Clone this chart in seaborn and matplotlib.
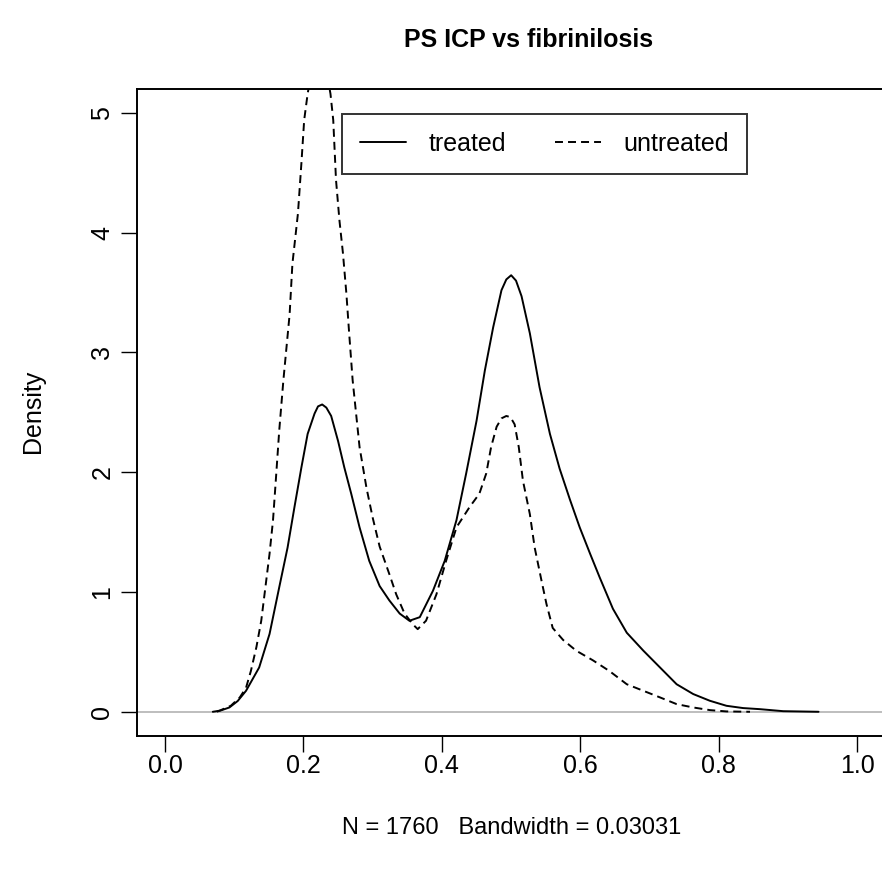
import matplotlib
matplotlib.use("Agg")
import matplotlib.pyplot as plt
import seaborn as sns
import pandas as pd

# density curves (x, density)
treated_x = [0.069, 0.080, 0.093, 0.105, 0.117, 0.136, 0.151, 0.165, 0.177, 0.187,
             0.197, 0.206, 0.216, 0.221, 0.227, 0.233, 0.240, 0.250, 0.259, 0.269,
             0.281, 0.295, 0.310, 0.324, 0.339, 0.353, 0.368, 0.387, 0.404, 0.421,
             0.435, 0.450, 0.462, 0.474, 0.486, 0.493, 0.500, 0.507, 0.515, 0.527,
             0.541, 0.556, 0.570, 0.585, 0.599, 0.614, 0.628, 0.647, 0.667, 0.691,
             0.715, 0.739, 0.763, 0.787, 0.811, 0.835, 0.859, 0.893, 0.944]
treated_y = [0.00, 0.01, 0.036, 0.09, 0.175, 0.37, 0.65, 1.04, 1.37, 1.71,
             2.04, 2.32, 2.49, 2.55, 2.566, 2.54, 2.47, 2.26, 2.04, 1.82,
             1.54, 1.26, 1.05, 0.93, 0.82, 0.76, 0.79, 1.01, 1.26, 1.60,
             1.99, 2.43, 2.85, 3.21, 3.52, 3.61, 3.645, 3.60, 3.47, 3.16,
             2.71, 2.32, 2.03, 1.77, 1.54, 1.32, 1.12, 0.86, 0.66, 0.51,
             0.37, 0.23, 0.148, 0.092, 0.05, 0.031, 0.022, 0.005, 0.0]

untreated_x = [0.075, 0.095, 0.108, 0.117, 0.124, 0.132, 0.139, 0.145, 0.151, 0.156,
               0.160, 0.165, 0.171, 0.180, 0.184, 0.192, 0.197, 0.201, 0.206, 0.215,
               0.222, 0.230, 0.239, 0.243, 0.247, 0.252, 0.257, 0.262, 0.266, 0.271,
               0.281, 0.291, 0.300, 0.310, 0.324, 0.334, 0.346, 0.358, 0.365, 0.377,
               0.392, 0.406, 0.421, 0.440, 0.454, 0.464, 0.471, 0.479, 0.486, 0.493,
               0.499, 0.505, 0.511, 0.517, 0.527, 0.534, 0.544, 0.551, 0.560, 0.575,
               0.594, 0.618, 0.642, 0.667, 0.691, 0.715, 0.739, 0.763, 0.787, 0.811,
               0.845]
untreated_y = [0.00, 0.05, 0.12, 0.20, 0.34, 0.54, 0.76, 1.04, 1.32, 1.60,
               1.93, 2.35, 2.77, 3.32, 3.74, 4.16, 4.58, 4.94, 5.16, 5.45,
               5.55, 5.45, 5.16, 4.94, 4.44, 4.10, 3.83, 3.49, 3.16, 2.77,
               2.21, 1.87, 1.62, 1.38, 1.15, 0.98, 0.82, 0.73, 0.69, 0.76,
               0.98, 1.26, 1.54, 1.71, 1.82, 1.99, 2.21, 2.38, 2.45, 2.47,
               2.46, 2.40, 2.21, 1.93, 1.65, 1.37, 1.09, 0.90, 0.70, 0.60,
               0.51, 0.43, 0.34, 0.23, 0.175, 0.12, 0.064, 0.036, 0.014, 0.003,
               0.0]

x_ticks = [0.0, 0.2, 0.4, 0.6, 0.8, 1.0]
y_ticks = [0, 1, 2, 3, 4, 5]

sns.set_style("white")
plt.rcParams["font.family"] = ["Liberation Sans", "DejaVu Sans"]
plt.rcParams["text.color"] = "black"
plt.rcParams["xtick.color"] = "black"
plt.rcParams["ytick.color"] = "black"

fig = plt.figure(figsize=(8.82, 8.71), dpi=100)
ax = fig.add_axes([0.1557, 0.1553, 0.8477, 0.7425])

ax.axhline(0, color="#bebebe", lw=1.4, zorder=1)

df_t = pd.DataFrame({"x": treated_x, "y": treated_y})
df_u = pd.DataFrame({"x": untreated_x, "y": untreated_y})
sns.lineplot(data=df_t, x="x", y="y", ax=ax, color="black", lw=1.4,
             estimator=None, label="treated")
sns.lineplot(data=df_u, x="x", y="y", ax=ax, color="black", lw=1.4,
             estimator=None, label="untreated")
ax.lines[-1].set_dashes((4.1, 2.6))

ax.set_xlim(-0.04, 1.04)
ax.set_ylim(-0.2, 5.2)
ax.set_xticks(x_ticks)
ax.set_xticklabels(["0.0", "0.2", "0.4", "0.6", "0.8", "1.0"])
ax.set_yticks(y_ticks)
ax.set_yticklabels([str(v) for v in y_ticks], rotation=90, va="center")
ax.tick_params(direction="out", length=11.5, width=1.0, labelsize=18,
               bottom=True, left=True)
ax.tick_params(axis="x", pad=2)
ax.tick_params(axis="y", pad=5)
for s in ax.spines.values():
    s.set_color("black")
    s.set_linewidth(1.4)

ax.set_xlabel("")
ax.set_ylabel("")
fig.text(529 / 882, 1 - 40 / 871, "PS ICP vs fibrinilosis", ha="center",
         va="center", fontsize=18, fontweight="bold")
fig.text(33 / 882, 1 - 411 / 871, "Density", ha="center", va="center",
         rotation=90, fontsize=18)
fig.text(512 / 882, 1 - 828 / 871, "N = 1760   Bandwidth = 0.03031",
         ha="center", va="center", fontsize=17)

leg = ax.legend(loc="upper left", bbox_to_anchor=(0.2735, 0.962), ncol=2,
                frameon=True, fancybox=False, fontsize=18, handlelength=1.85,
                handletextpad=0.9, columnspacing=1.95, borderaxespad=0,
                borderpad=0.72)
leg.get_frame().set_edgecolor("black")
leg.get_frame().set_linewidth(1.4)

fig.savefig("out.png", dpi=100)
